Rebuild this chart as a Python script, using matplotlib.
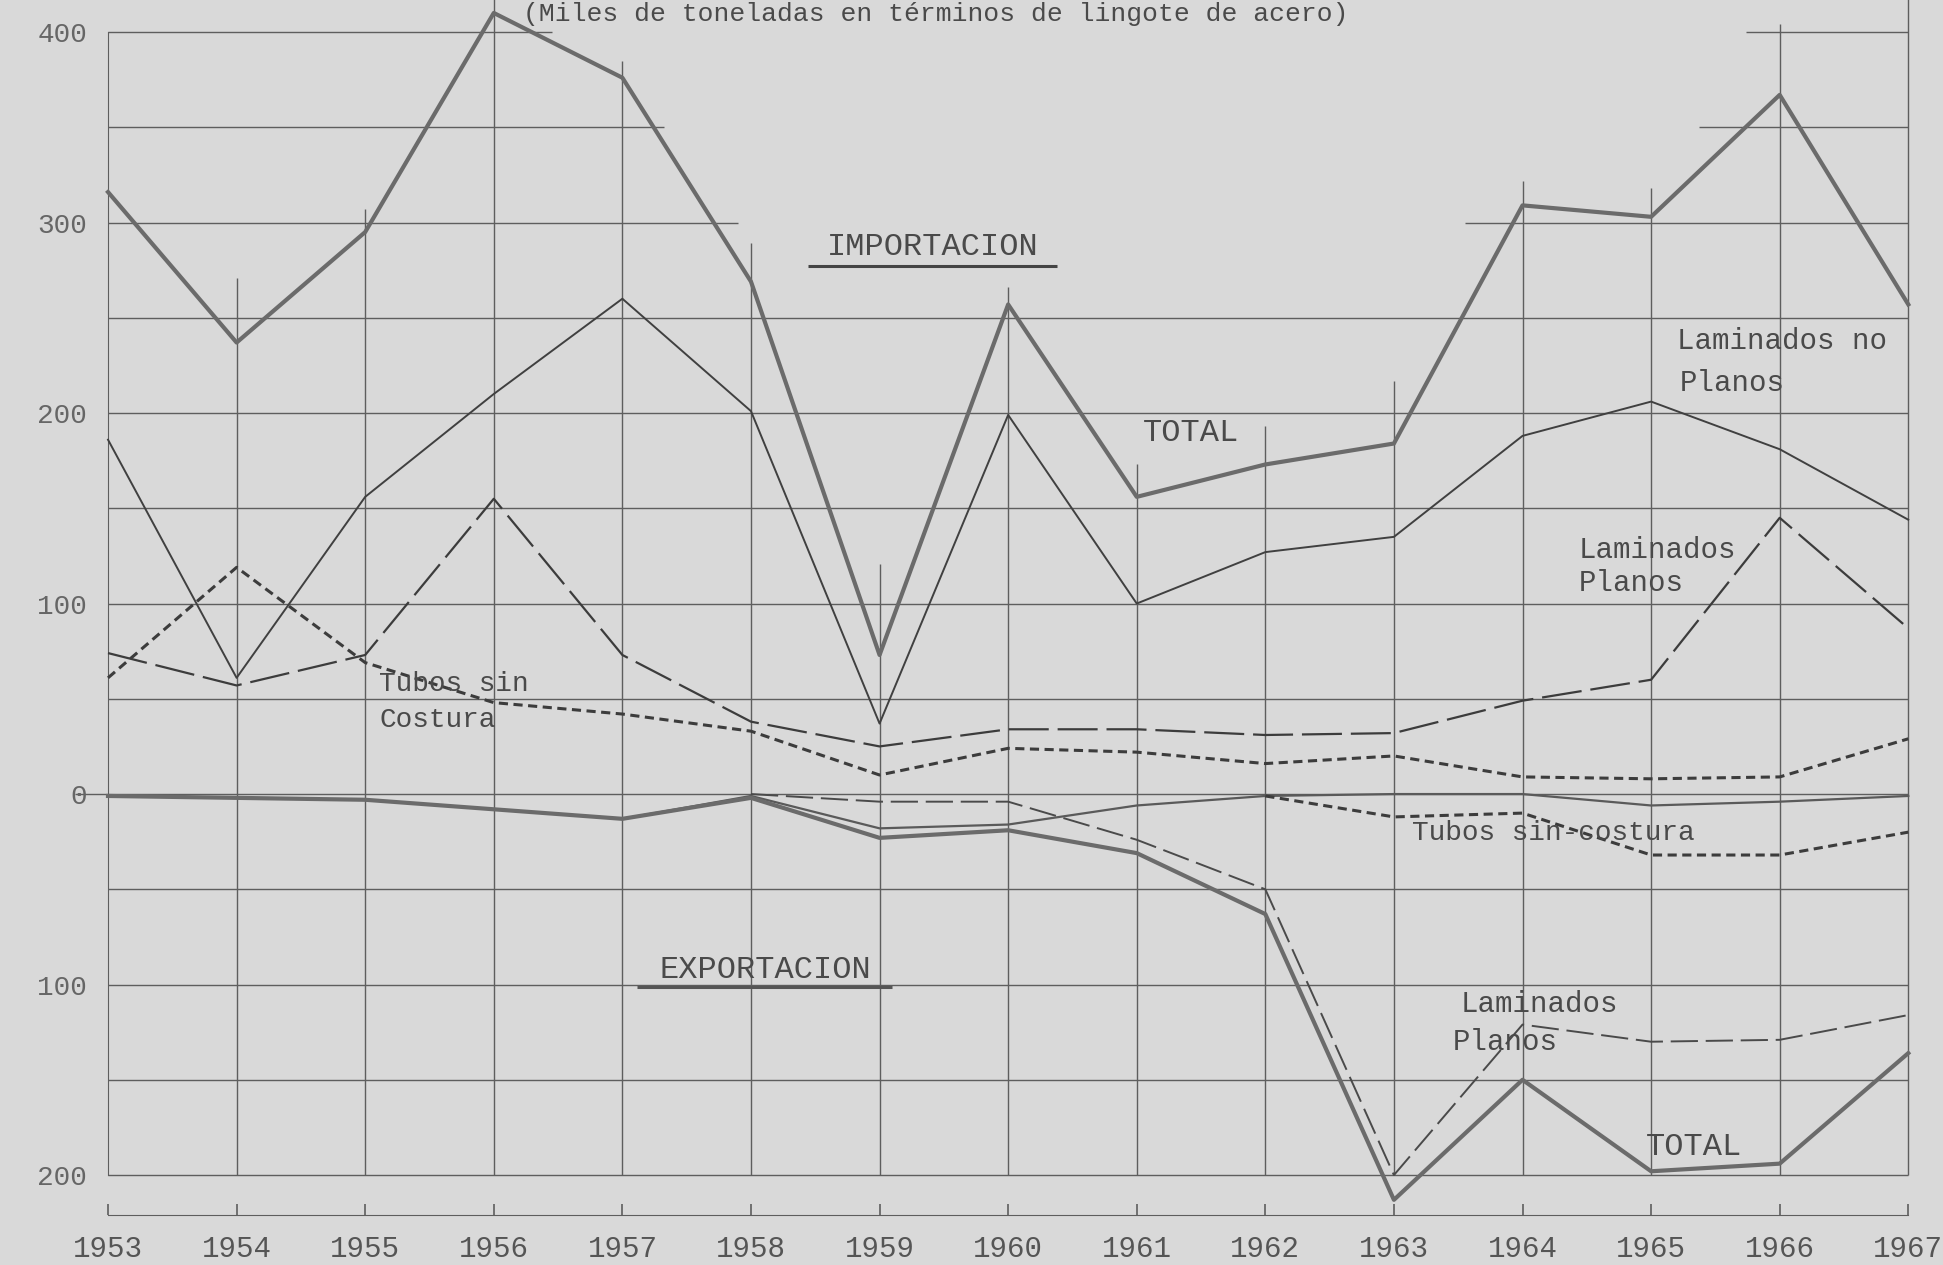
import numpy as np
import matplotlib.pyplot as plt

# años
years = list(range(1953, 1968))

# Importacion (miles de toneladas)
imp_total = [316, 237, 295, 410, 376, 269, 73, 257, 156, 173, 184, 309, 303, 367, 257]
imp_lam_no_planos = [186, 61, 156, 210, 260, 201, 37, 199, 100, 127, 135, 188, 206, 181, 144]
imp_lam_planos = [74, 57, 73, 155, 73, 38, 25, 34, 34, 31, 32, 49, 60, 145, 87]
imp_tubos = [61, 119, 69, 48, 42, 33, 10, 24, 22, 16, 20, 9, 8, 9, 29]

# Exportacion (se dibuja hacia abajo)
nan = np.nan
exp_total = [-1, -2, -3, -8, -13, -2, -23, -19, -31, -63, -213, -150, -198, -194, -136]
exp_lam_no_planos = [-1, -2, -3, -8, -13, -1, -18, -16, -6, -1, 0, 0, -6, -4, -1]
exp_lam_planos = [nan, nan, nan, nan, nan, 0, -4, -4, -24, -50, -200, -121, -130, -129, -116]
exp_tubos = [nan, nan, nan, nan, nan, nan, nan, nan, nan, -1, -12, -10, -32, -32, -20]

ytick_vals = [-200, -100, 0, 100, 200, 300, 400]
ytick_labels = ["200", "100", "0", "100", "200", "300", "400"]

# top of each vertical grid line (paper grid is not complete at the top)
vgrid_top = [None, 271, 307, 420, 385, 289, 121, 266, 173, 193, 217, 322, 318, 404, 420]
hgrid_spans = {400: [(1953, 1956.45), (1965.74, 1967)],
               350: [(1953, 1957.32), (1965.37, 1967)],
               300: [(1953, 1957.9), (1963.55, 1967)]}

paper = "#d9d9d9"
grid_c = "#5e5e5e"
font = "Liberation Mono"

fig = plt.figure(figsize=(19.43, 12.65), dpi=100, facecolor=paper)
ax = fig.add_axes([0, 0, 1, 1], facecolor=paper)
ax.set_xlim(1952.16, 1967.27)
ax.set_ylim(-247.2, 416.8)

# grid
for yr, top in zip(years[1:], vgrid_top[1:]):
    ax.vlines(yr, -200, top, color=grid_c, lw=1.0, zorder=1)
for v in range(-200, 401, 50):
    for x0, x1 in hgrid_spans.get(v, [(1952.74 if v == 0 else 1953, 1967)]):
        ax.hlines(v, x0, x1, color=grid_c, lw=1.0, zorder=1)

# series
ax.plot(years, imp_total, color="#6b6b6b", lw=3.0, zorder=4)
ax.plot(years, imp_lam_no_planos, color="#404040", lw=1.4, zorder=3)
ax.plot(years, imp_lam_planos, color="#3c3c3c", lw=1.6, ls=(0, (18, 4)), zorder=3)
ax.plot(years, imp_tubos, color="#3c3c3c", lw=2.2, ls=(0, (3, 1.8)), zorder=3)

ax.plot(years, exp_total, color="#6b6b6b", lw=3.0, zorder=4)
ax.plot(years, exp_lam_no_planos, color="#5a5a5a", lw=1.6, zorder=3)
ax.plot(years, exp_lam_planos, color="#4a4a4a", lw=1.4, ls=(0, (14, 4)), zorder=3)
ax.plot(years, exp_tubos, color="#3c3c3c", lw=2.2, ls=(0, (3, 1.8)), zorder=3)

# axes
for s in ["top", "right"]:
    ax.spines[s].set_visible(False)
ax.spines["left"].set_position(("data", 1953))
ax.spines["left"].set_bounds(-200, 400)
ax.spines["left"].set_color(grid_c)
ax.spines["bottom"].set_position(("data", -221))
ax.spines["bottom"].set_bounds(1953, 1967)
ax.spines["bottom"].set_color(grid_c)

ax.set_xticks(years)
ax.set_xticklabels([str(y) for y in years], family=font, fontsize=21, color="#555555")
ax.tick_params(axis="x", direction="in", length=8, width=1.2, color=grid_c, pad=14)
ax.set_yticks(ytick_vals)
ax.set_yticklabels(ytick_labels, family=font, fontsize=20, color="#666666")
ax.tick_params(axis="y", length=0, pad=15)

# labels
tx = dict(family=font, color="#4a4a4a", zorder=5)
ax.text(1956.23, 416.0, "(Miles de toneladas en términos de lingote de acero)",
        fontsize=19, va="top", ha="left", **tx)
ax.text(1959.41, 287, "IMPORTACION", fontsize=23, ha="center", va="center", **tx)
ax.hlines(277, 1958.44, 1960.38, color="#444444", lw=2.2, zorder=5)
ax.text(1961.05, 189.5, "TOTAL", fontsize=23, ha="left", va="center", **tx)
ax.text(1965.2, 238, "Laminados no", fontsize=21, ha="left", va="center", **tx)
ax.text(1965.22, 216, "Planos", fontsize=21, ha="left", va="center", **tx)
ax.text(1964.44, 128, "Laminados", fontsize=21, ha="left", va="center", **tx)
ax.text(1964.44, 111, "Planos", fontsize=21, ha="left", va="center", **tx)
ax.text(1955.11, 58, "Tubos sin", fontsize=20, ha="left", va="center", **tx)
ax.text(1955.11, 39, "Costura", fontsize=20, ha="left", va="center", **tx)
ax.text(1958.11, -92.4, "EXPORTACION", fontsize=23, ha="center", va="center", **tx)
ax.hlines(-101.3, 1957.11, 1959.10, color="#555555", lw=2.2, zorder=5)
ax.text(1963.14, -20.5, "Tubos sin-costura", fontsize=20, ha="left", va="center", **tx)
ax.text(1963.52, -110, "Laminados", fontsize=21, ha="left", va="center", **tx)
ax.text(1963.46, -130, "Planos", fontsize=21, ha="left", va="center", **tx)
ax.text(1964.96, -185, "TOTAL", fontsize=23, ha="left", va="center", **tx)

plt.savefig("out.png", dpi=100, facecolor=paper)
